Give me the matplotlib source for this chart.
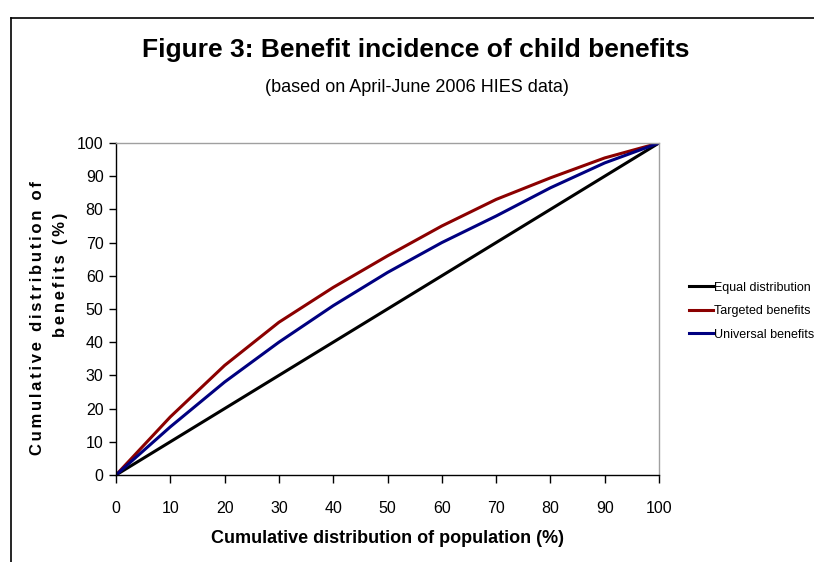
import matplotlib
matplotlib.use("Agg")
import matplotlib.pyplot as plt
from matplotlib.lines import Line2D

# Cumulative distribution data
population = [0, 10, 20, 30, 40, 50, 60, 70, 80, 90, 100]
equal_dist = [0, 10, 20, 30, 40, 50, 60, 70, 80, 90, 100]
targeted = [0, 17.5, 33, 46, 56.5, 66, 75, 83, 89.5, 95.5, 100]
universal = [0, 14.5, 28, 40, 51, 61, 70, 78, 86.5, 94, 100]
series_labels = ["Equal distribution", "Targeted benefits", "Universal benefits"]
x_ticks = [0, 10, 20, 30, 40, 50, 60, 70, 80, 90, 100]
y_ticks = [0, 10, 20, 30, 40, 50, 60, 70, 80, 90, 100]

plt.rcParams["font.family"] = ["Liberation Sans", "DejaVu Sans"]

W, H = 814, 562
fig = plt.figure(figsize=(W / 100, H / 100), dpi=100)

# outer frame (left and top edges visible)
fig.add_artist(Line2D([11 / W, 11 / W], [0, 1 - 18 / H], color="black", lw=1.2,
                      transform=fig.transFigure))
fig.add_artist(Line2D([11 / W, 1], [1 - 18 / H, 1 - 18 / H], color="black", lw=1.2,
                      transform=fig.transFigure))

x0, x1, y0, y1 = 116, 659, 143, 475
ax = fig.add_axes([x0 / W, 1 - y1 / H, (x1 - x0) / W, (y1 - y0) / H])

ax.plot(population, equal_dist, color="black", lw=2.2, label=series_labels[0])
ax.plot(population, targeted, color="#8B0000", lw=2.2, label=series_labels[1])
ax.plot(population, universal, color="#000080", lw=2.2, label=series_labels[2])

ax.set_xlim(0, 100)
ax.set_ylim(0, 100)
ax.set_xticks(x_ticks)
ax.set_yticks(y_ticks)
ax.tick_params(axis="both", direction="out", length=5, width=1, labelsize=11.5,
               color="black", pad=4)
ax.tick_params(axis="x", length=6, pad=13)
for s in ("top", "right"):
    ax.spines[s].set_color("#A0A0A0")
    ax.spines[s].set_linewidth(1)
for s in ("left", "bottom"):
    ax.spines[s].set_color("black")
    ax.spines[s].set_linewidth(1)

ax.set_xlabel("Cumulative distribution of population (%)", fontsize=13,
              fontweight="bold", labelpad=10)

# y-axis title, letter-spaced, on two lines
sp = "\u2006"
fig.text(38 / W, 1 - 318 / H, sp.join("Cumulative distribution of"), rotation=90,
         ha="center", va="center", fontsize=12, fontweight="bold")
fig.text(60 / W, 1 - 275 / H, sp.join("benefits (%)"), rotation=90,
         ha="center", va="center", fontsize=12, fontweight="bold")

fig.text(416 / W, 1 - 50 / H, "Figure 3: Benefit incidence of child benefits",
         ha="center", va="center", fontsize=19, fontweight="bold")
fig.text(417 / W, 1 - 88 / H, "(based on April-June 2006 HIES data)",
         ha="center", va="center", fontsize=13)

leg = ax.legend(loc="center left", bbox_to_anchor=(689 / W, 1 - 311 / H),
                bbox_transform=fig.transFigure, frameon=False,
                prop={"size": 9}, handlelength=1.9, handletextpad=0.1,
                labelspacing=0.92, borderpad=0, borderaxespad=0)
for line in leg.get_lines():
    line.set_linewidth(2.2)

fig.savefig("out.png", dpi=100)
